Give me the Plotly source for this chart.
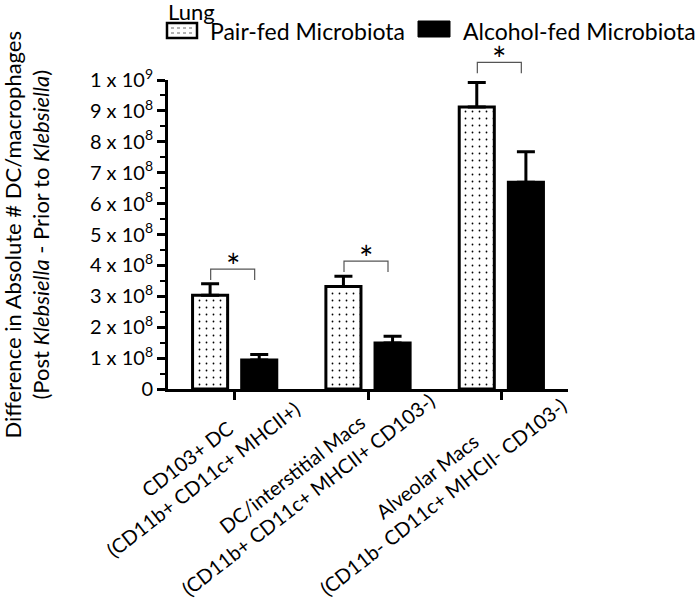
import plotly.graph_objects as go

categories = ["CD103+ DC<br>(CD11b+ CD11c+ MHCII+)",
              "DC/interstitial Macs<br>(CD11b+ CD11c+ MHCII+ CD103-)",
              "Alveolar Macs<br>(CD11b- CD11c+ MHCII- CD103-)"]
pair_fed = [3.03e8, 3.32e8, 9.13e8]
pair_fed_err = [0.38e8, 0.33e8, 0.79e8]
alcohol_fed = [0.94e8, 1.49e8, 6.69e8]
alcohol_fed_err = [0.18e8, 0.22e8, 0.99e8]
sig_y = [3.88e8, 4.14e8, 10.57e8]
sig_text = ["*", "*", "*"]
tick_vals = [0, 1e8, 2e8, 3e8, 4e8, 5e8, 6e8, 7e8, 8e8, 9e8, 1e9]
tick_text = ["0"] + ["%d x 10<sup>8</sup>" % i for i in range(1, 10)] + ["1 x 10<sup>9</sup>"]

FONT = "Lato"
W, H = 695, 598
L, R, T, B = 168, 127, 80, 209
pw = W - L - R
ph = H - T - B


def px_x(p):
    return (p - L) / pw


def px_y(p):
    return (H - B - p) / ph


x = list(range(len(categories)))

fig = go.Figure()
fig.add_trace(go.Bar(
    x=x, y=pair_fed, name="Pair-fed Microbiota",
    marker=dict(color="white", line=dict(color="black", width=3),
                pattern=dict(shape=".", fgcolor="black", bgcolor="white",
                             size=7, solidity=0.05, fillmode="replace")),
    error_y=dict(type="data", symmetric=False, array=pair_fed_err,
                 arrayminus=[0, 0, 0], color="black", thickness=3, width=9),
))
fig.add_trace(go.Bar(
    x=x, y=alcohol_fed, name="Alcohol-fed Microbiota",
    marker=dict(color="black", line=dict(color="black", width=3)),
    error_y=dict(type="data", symmetric=False, array=alcohol_fed_err,
                 arrayminus=[0, 0, 0], color="black", thickness=3, width=9),
))

# significance brackets
for i, yv in enumerate(sig_y):
    x0, x1 = i - 0.18, i + 0.15
    yt = yv / 1e9
    leg = 0.035
    fig.add_shape(type="path",
                  path="M {a},{b} L {a},{c} L {d},{c} L {d},{b}".format(
                      a=x0, b=yt - leg, c=yt, d=x1),
                  xref="x", yref="paper", line=dict(color="#555555", width=1.2))
    fig.add_annotation(x=(x0 + x1) / 2, y=yt, xref="x", yref="paper",
                       text=sig_text[i], showarrow=False, yanchor="bottom",
                       yshift=-19, font=dict(family=FONT, size=34, color="black"))

# category labels
label_shift = [(-40, -80), (-68, -95), (-66, -97)]
for i, c in enumerate(categories):
    fig.add_annotation(x=i, y=0, xref="x", yref="y", text=c, showarrow=False,
                       textangle=-38, align="center", xanchor="center",
                       yanchor="middle", xshift=label_shift[i][0],
                       yshift=label_shift[i][1],
                       font=dict(family=FONT, size=20, color="black"))

# y title
fig.add_annotation(x=px_x(26), y=0.5, xref="paper", yref="paper",
                   text="Difference in Absolute # DC/macrophages<br>"
                        "(Post <i>Klebsiella</i> - Prior to <i>Klebsiella</i>)",
                   textangle=-90, showarrow=False, align="center",
                   xanchor="center", yanchor="middle",
                   font=dict(family=FONT, size=22, color="black"))

# legend (drawn by hand)
fig.add_annotation(x=px_x(166), y=px_y(12), xref="paper", yref="paper",
                   text="Lung", showarrow=False, xanchor="left", yanchor="middle",
                   font=dict(family=FONT, size=22, color="black"))
fig.add_shape(type="rect", xref="paper", yref="paper",
              x0=px_x(167), x1=px_x(197), y0=px_y(38), y1=px_y(23),
              fillcolor="white", line=dict(color="black", width=2.5))
for yy in (28, 33):
    fig.add_shape(type="line", xref="paper", yref="paper",
                  x0=px_x(171), x1=px_x(194), y0=px_y(yy), y1=px_y(yy),
                  line=dict(color="#666666", width=1, dash="dot"))
fig.add_annotation(x=px_x(208), y=px_y(31), xref="paper", yref="paper",
                   text="Pair-fed Microbiota", showarrow=False,
                   xanchor="left", yanchor="middle",
                   font=dict(family=FONT, size=23, color="black"))
fig.add_shape(type="rect", xref="paper", yref="paper",
              x0=px_x(418), x1=px_x(450), y0=px_y(37), y1=px_y(21),
              fillcolor="black", line=dict(color="black", width=1))
fig.add_annotation(x=px_x(461), y=px_y(31), xref="paper", yref="paper",
                   text="Alcohol-fed Microbiota", showarrow=False,
                   xanchor="left", yanchor="middle",
                   font=dict(family=FONT, size=23, color="black"))

fig.update_layout(
    width=W, height=H, autosize=False,
    margin=dict(l=L, r=R, t=T, b=B),
    plot_bgcolor="white", paper_bgcolor="white",
    barmode="group", bargap=0.263, bargroupgap=0.286,
    showlegend=False,
    font=dict(family=FONT, size=18, color="black"),
)
fig.update_xaxes(range=[-0.5, 2.5], showticklabels=False, showgrid=False,
                 zeroline=False, showline=True, linecolor="black", linewidth=3,
                 ticks="outside", tickvals=x, ticklen=8, tickwidth=3,
                 tickcolor="black")
fig.update_yaxes(range=[0, 1e9], tickvals=tick_vals, ticktext=tick_text,
                 showgrid=False, zeroline=False, showline=True,
                 linecolor="black", linewidth=3, ticks="outside", ticklen=8,
                 tickwidth=3, tickcolor="black",
                 tickfont=dict(family=FONT, size=20),
                 minor=dict(ticks="outside", ticklen=5, tickwidth=2,
                            tickcolor="black", dtick=5e7, showgrid=False))

fig.write_html("out.html", config={"displayModeBar": False},
               post_script="document.body.style.margin='0px';")
